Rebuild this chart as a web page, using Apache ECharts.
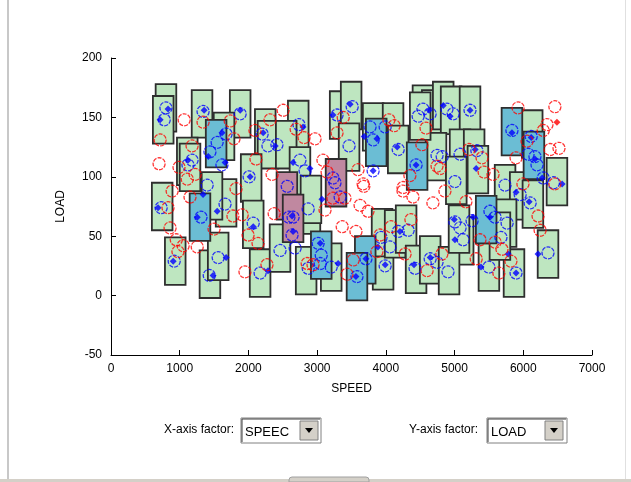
<!DOCTYPE html>
<html><head><meta charset="utf-8">
<script src="https://cdn.jsdelivr.net/npm/echarts@6/dist/echarts.min.js"></script>
<style>html,body{margin:0;padding:0;background:#fff}#c{width:631px;height:482px}</style>
</head><body><div id="c"></div>
<script>
// ---- data (SPEED, LOAD) ----
const greenBoxes = [[800,158],[760,148],[1325,153],[1880,153],[1645,134],[1110,113],[1150,108],[2245,137],[2285,127],[2725,144],[2550,127],[2040,99],[1675,78],[745,75],[1470,84],[3335,152],[3495,160],[3465,125],[3815,142],[4105,142],[4180,123],[4540,157],[4675,153],[4835,160],[4950,156],[5225,156],[5080,120],[5285,120],[4730,117],[6130,136],[6490,96],[5735,90],[5955,84],[935,29],[1440,18],[1560,33],[2070,60],[2170,19],[2460,40],[2895,72],[2840,21],[3205,24],[3960,25],[3945,53],[4135,52],[4295,56],[4440,22],[4645,30],[5340,106],[5750,61],[6140,77],[6360,35],[5125,46],[4920,21],[5065,56],[5500,24],[5865,19],[5660,50],[5025,97],[2750,105],[2910,81],[4500,151]];
const blueBoxes = [[1530,128],[3860,129],[4455,109],[5835,138],[6155,118],[1295,66],[3060,34],[3700,30],[3580,16],[5460,64]];
const mauveBoxes = [[2560,84],[2650,65],[3275,95]];
const blueCircles = [[800,158],[775,148],[1340,155],[1880,153],[1675,136],[1545,129],[1440,121],[1615,110],[1180,114],[1120,110],[2200,136],[2285,126],[2415,127],[2010,100],[1400,93],
[2735,144],[3290,152],[3510,159],[3465,126],[3770,142],[3815,131],[3990,142],[4180,123],[4440,110],[3815,105],[4540,157],[4645,153],[4470,151],[4745,118],[2750,114],[2825,105],[3230,99],
[4890,157],[4980,153],[5225,156],[5835,139],[6115,134],[6070,119],[6170,117],[6200,110],[5080,119],[5325,122],[4820,117],[6290,99],[5735,93],
[730,74],[1310,66],[1560,32],[920,29],[1430,17],[1660,77],[2070,61],[2170,19],[2460,38],[2565,92],
[2650,66],[2870,73],[2680,40],[3015,44],[3060,34],[3045,27],[3205,24],[2870,23],[3710,31],[3990,25],[3580,16],[3930,49],[4060,41],[4180,54],[4325,55],[4425,23],[4645,31],[4745,28],
[5005,62],[5080,57],[5125,47],[5255,63],[5515,71],[5590,66],[5765,61],[5675,49],[5500,24],[5895,19],[6360,36],[4905,20],[6100,78],[5955,85],
[2590,66],[2635,51],[3260,95],[3335,83],[5005,96],[6440,95]];
const blueDots = [[830,157],[715,148],[1355,156],[1880,156],[1615,137],[1415,117],[1660,112],[1120,114],[2215,137],[2390,126],[2025,100],[2795,142],[3480,161],[3230,152],[3685,134],[3870,132],[4165,125],[4440,110],[3815,105],[4630,156],[2895,107],[2650,112],[4935,151],[4835,160],[5225,156],[5835,137],[6115,133],[6170,115],[5300,123],[5315,107],[6565,94],[6275,99],[685,74],[1255,66],[1675,32],[905,29],[1485,17],[2070,58],[2285,21],[1545,71],[1340,85],[2635,67],[3070,81],[3045,44],[3710,31],[3990,26],[3565,16],[3885,41],[4205,54],[4410,26],[4645,32],[3305,27],[2650,54],[4995,64],[5005,47],[5270,66],[5515,66],[5780,35],[5385,24],[5895,19],[6215,35],[6085,79],[5895,87]];
const redCircles = [[1065,148],[1340,146],[1735,147],[1790,132],[715,131],[700,111],[1180,126],[990,108],[1110,98],[1225,102],[2095,139],[2315,148],[2505,156],[2110,115],[2345,102],[1820,90],[2695,140],[2810,133],[2970,132],[3380,150],[3290,137],[4045,148],[4120,143],[4585,141],[4525,127],[3595,106],[3670,94],[3085,114],[3145,104],[4350,101],[4745,109],[4250,91],[5925,158],[6460,159],[6345,144],[6290,139],[6055,130],[6390,123],[6520,124],[5895,116],[5210,123],[5400,116],[5430,104],[5560,102],[5995,94],[6460,94],[4790,107],[890,88],[1150,83],[830,74],[860,57],[950,47],[1050,42],[975,37],[1255,41],[1500,56],[1775,67],[1910,68],[1995,51],[1950,20],[2270,26],[2140,44],[2375,69],[3230,82],[3405,82],[3115,72],[3625,76],[3740,71],[3365,58],[3565,54],[3915,51],[4075,58],[4365,64],[4280,35],[3870,37],[3525,30],[2940,26],[2855,27],[3435,18],[4600,21],[4250,88],[4395,83],[4685,78],[3680,92],[4860,88],[5165,79],[5370,47],[5590,45],[5690,39],[5820,29],[5315,31],[5645,19],[6215,67],[6245,55],[4815,35]];
const redDots = [[6490,146]];
const xTicks = {min:0, max:7000, step:1000};
const yTicks = {min:-50, max:200, step:50};

// box size in data units
const BOX_W = 300, BOX_H = 40;
const FONT = 'Liberation Sans, Arial, sans-serif';

function boxSeries(data, fill){
  return {type:'custom', data:data, z:2, silent:true,
    renderItem:function(params, api){
      const c = api.coord([api.value(0), api.value(1)]);
      const s = api.size([BOX_W, BOX_H]);
      return {type:'rect', shape:{x:c[0]-s[0]/2, y:c[1]-s[1]/2, width:s[0], height:s[1]},
        style:{fill:fill, stroke:'#2e2e2e', lineWidth:1.8}};
    }};
}
const circleStyle = (col)=>({color:'transparent', borderColor:col, borderWidth:1.3, borderType:[4,1.2]});

const chart = echarts.init(document.getElementById('c'), null, {renderer:'canvas'});
chart.setOption({
  animation:false,
  backgroundColor:'#ffffff',
  grid:{left:111, right:39, top:58, bottom:127},
  xAxis:{type:'value', min:xTicks.min, max:xTicks.max, interval:xTicks.step,
    name:'SPEED', nameLocation:'middle', nameGap:28,
    nameTextStyle:{color:'#000', fontFamily:FONT, fontSize:12},
    axisLine:{onZero:false, lineStyle:{color:'#000', width:1}},
    axisTick:{inside:true, length:5, lineStyle:{color:'#000'}},
    axisLabel:{color:'#000', fontFamily:FONT, fontSize:12, margin:8, formatter:(v)=>String(v)},
    splitLine:{show:false}},
  yAxis:{type:'value', min:yTicks.min, max:yTicks.max, interval:yTicks.step,
    name:'LOAD', nameLocation:'middle', nameGap:44, nameRotate:90,
    nameTextStyle:{color:'#000', fontFamily:FONT, fontSize:12},
    axisLine:{show:true, onZero:false, lineStyle:{color:'#000', width:1}},
    axisTick:{show:true, inside:true, length:5, lineStyle:{color:'#000'}},
    axisLabel:{color:'#000', fontFamily:FONT, fontSize:12, margin:9, formatter:(v)=>String(v)},
    splitLine:{show:false}},
  series:[
    boxSeries(greenBoxes, '#bee6c0'),
    boxSeries(blueBoxes, '#6bbdd4'),
    boxSeries(mauveBoxes, '#c088a0'),
    {type:'scatter', data:blueCircles, symbol:'circle', symbolSize:12, z:5, itemStyle:circleStyle('#0000ff')},
    {type:'scatter', data:blueDots, symbol:'diamond', symbolSize:7, z:6, itemStyle:{color:'#0000ff'}},
    {type:'scatter', data:redCircles, symbol:'circle', symbolSize:12, z:7, itemStyle:circleStyle('#ff0000')},
    {type:'scatter', data:redDots, symbol:'diamond', symbolSize:7, z:7, itemStyle:{color:'#ff0000'}}
  ],
  graphic:[
    {type:'rect', shape:{x:7, y:0, width:2, height:482}, style:{fill:'#c8c8c8'}},
    {type:'rect', shape:{x:625, y:0, width:1, height:482}, style:{fill:'#e0e0e0'}},
    {type:'rect', shape:{x:0, y:479, width:631, height:3}, style:{fill:'#d4d0c8'}},
    {type:'rect', shape:{x:289, y:477, width:80, height:5, r:[3,3,0,0]}, style:{fill:'#d4d0c8', stroke:'#a0a0a0'}},
    // X-axis factor
    {type:'text', style:{text:'X-axis factor:', x:234, y:430, align:'right', verticalAlign:'middle', font:'12px '+FONT, fill:'#000'}},
    {type:'rect', shape:{x:241, y:418, width:80, height:25}, style:{fill:'#ffffff', stroke:'#808080', lineWidth:1}},
    {type:'polyline', shape:{points:[[242,442],[242,419],[320,419]]}, style:{stroke:'#404040', lineWidth:1, fill:null}},
    {type:'text', style:{text:'SPEEC', x:245, y:432, verticalAlign:'middle', font:'13px '+FONT, fill:'#000'}},
    {type:'rect', shape:{x:300, y:421, width:18, height:19}, style:{fill:'#d4d0c8', stroke:'#808080', lineWidth:1}},
    {type:'polygon', shape:{points:[[305,428],[313,428],[309,433]]}, style:{fill:'#000'}},
    // Y-axis factor
    {type:'text', style:{text:'Y-axis factor:', x:478, y:430, align:'right', verticalAlign:'middle', font:'12px '+FONT, fill:'#000'}},
    {type:'rect', shape:{x:487, y:418, width:80, height:25}, style:{fill:'#ffffff', stroke:'#808080', lineWidth:1}},
    {type:'polyline', shape:{points:[[488,442],[488,419],[566,419]]}, style:{stroke:'#404040', lineWidth:1, fill:null}},
    {type:'text', style:{text:'LOAD', x:491, y:432, verticalAlign:'middle', font:'13px '+FONT, fill:'#000'}},
    {type:'rect', shape:{x:545, y:421, width:18, height:19}, style:{fill:'#d4d0c8', stroke:'#808080', lineWidth:1}},
    {type:'polygon', shape:{points:[[550,428],[558,428],[554,433]]}, style:{fill:'#000'}}
  ]
});
</script></body></html>
